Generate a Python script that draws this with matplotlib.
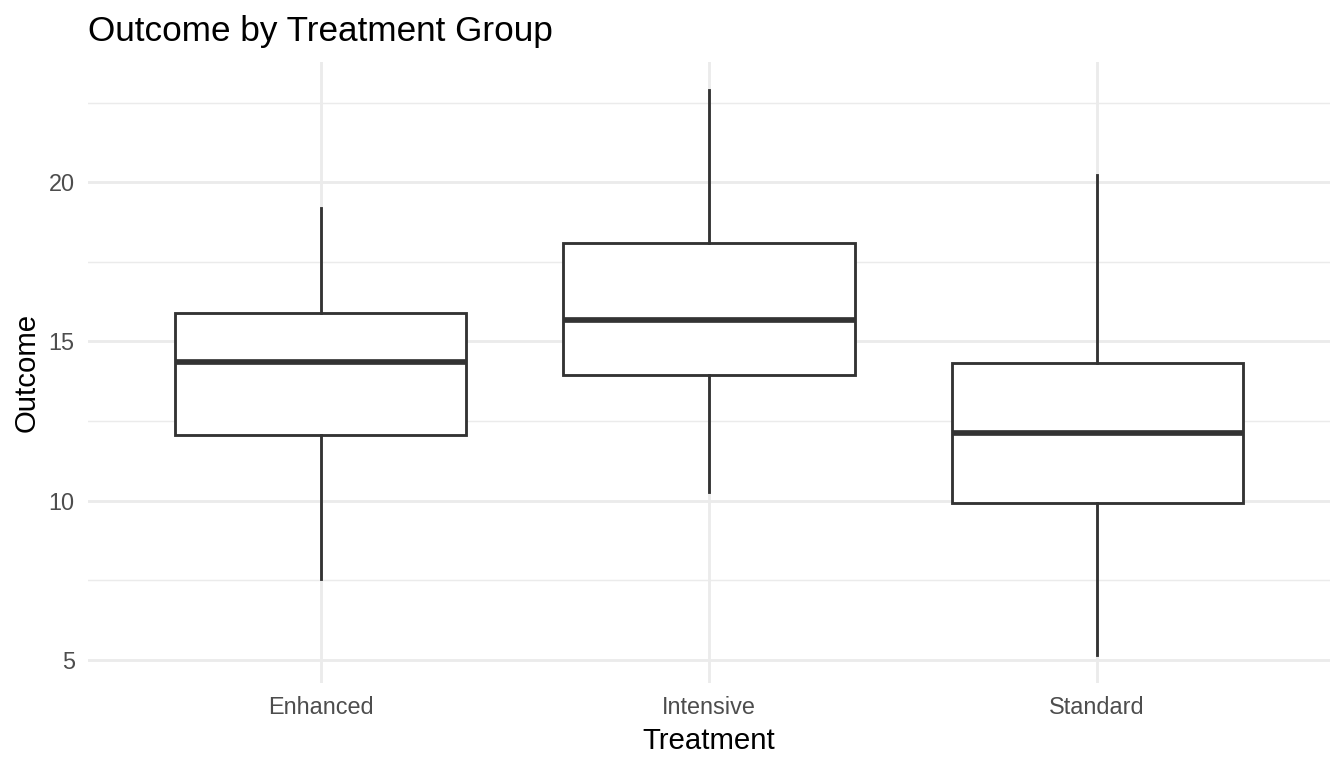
import matplotlib
matplotlib.use("Agg")
import matplotlib.pyplot as plt
from matplotlib.ticker import MultipleLocator

# values (box stats per group)
groups = ["Enhanced", "Intensive", "Standard"]
whisker_low = [7.55, 10.28, 5.16]
q1 = [12.06, 13.95, 9.92]
median = [14.34, 15.68, 12.14]
q3 = [15.88, 18.08, 14.33]
whisker_high = [19.20, 22.89, 20.23]

plt.rcParams["font.family"] = ["Liberation Sans", "DejaVu Sans"]

# ggplot-like sizes: 7x4 in at 192 dpi -> 1344x768
fig = plt.figure(figsize=(7, 4), dpi=192)
ax = fig.add_axes([88 / 1344, 85 / 768, 1242 / 1344, 621 / 768])

stats = []
for i, g in enumerate(groups):
    stats.append({
        "label": g,
        "whislo": whisker_low[i],
        "q1": q1[i],
        "med": median[i],
        "q3": q3[i],
        "whishi": whisker_high[i],
        "fliers": [],
    })

line_col = "#333333"
# ggplot linewidth 0.5 (mm) -> R lwd units of 1/96 in -> points
lw = 0.5 * 72.27 / 25.4 * 72 / 96
ax.bxp(
    stats,
    positions=range(1, len(groups) + 1),
    widths=0.75,
    patch_artist=True,
    showcaps=False,
    boxprops=dict(facecolor="white", edgecolor=line_col, linewidth=lw),
    whiskerprops=dict(color=line_col, linewidth=lw),
    medianprops=dict(color=line_col, linewidth=lw * 2, solid_capstyle="butt"),
    zorder=3,
)

# scale expansion like ggplot
lo = min(whisker_low)
hi = max(whisker_high)
pad = (hi - lo) * 0.05
ax.set_ylim(lo - pad, hi + pad)
ax.set_xlim(0.4, len(groups) + 0.6)

ax.yaxis.set_major_locator(MultipleLocator(5))
ax.yaxis.set_minor_locator(MultipleLocator(2.5))
ax.set_xticks(range(1, len(groups) + 1))
ax.set_xticklabels(groups)

grid_col = "#EBEBEB"
ax.grid(True, which="major", color=grid_col, linewidth=lw, zorder=0)
ax.grid(True, which="minor", axis="y", color=grid_col, linewidth=lw / 2, zorder=0)
ax.set_axisbelow(True)

for s in ax.spines.values():
    s.set_visible(False)
ax.tick_params(which="both", length=0)
ax.tick_params(axis="both", labelsize=8.8, labelcolor="#4D4D4D", pad=5)

ax.set_xlabel("Treatment", fontsize=11, color="black", labelpad=3)
ax.set_ylabel("Outcome", fontsize=11, color="black", labelpad=3)
ax.set_title("Outcome by Treatment Group", fontsize=13.2, loc="left", pad=8)

fig.savefig("out.png", dpi=192)
